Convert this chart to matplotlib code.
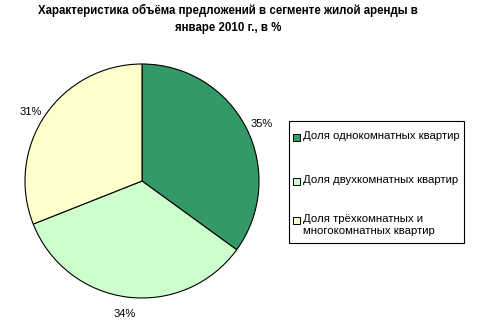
import matplotlib.pyplot as plt
from matplotlib.patches import Rectangle

plt.rcParams['font.family'] = ['Liberation Sans', 'DejaVu Sans']

labels = ['Доля однокомнатных квартир', 'Доля двухкомнатных квартир',
          'Доля трёхкомнатных и\nмногокомнатных квартир']
values = [35, 34, 31]
colors = ['#339966', '#CCFFCC', '#FFFFCC']

W, H = 480, 324
fig = plt.figure(figsize=(W / 100, H / 100), dpi=100)
ax = fig.add_axes([25 / W, 26 / H, 234 / W, 234 / H])

wedges, texts = ax.pie(values, colors=colors, startangle=90, counterclock=False,
                       labels=[f'{v}%' for v in values], labeldistance=1.15,
                       wedgeprops=dict(edgecolor='black', linewidth=0.8),
                       textprops=dict(fontsize=8))
# small nudges so the labels sit where the original put them
nudge = [-0.035, 0.0, -0.055]
for t, dy in zip(texts, nudge):
    t.set_ha('center')
    t.set_va('center')
    x, y = t.get_position()
    t.set_position((x, y + dy))
ax.set_xlim(-1, 1)
ax.set_ylim(-1, 1)
ax.set_aspect('equal')

fig.text(0.475, 0.988, 'Характеристика объёма предложений в сегменте жилой аренды в\nянваре 2010 г., в %',
         ha='center', va='top', fontsize=8.3, fontweight='bold', linespacing=1.6)

# legend drawn by hand: handle sits on the first line of each entry
fig.patches.append(Rectangle((289 / W, 1 - 243 / H), 175 / W, 122 / H,
                             transform=fig.transFigure, facecolor='white',
                             edgecolor='black', linewidth=0.8, zorder=1))
entry_y = [137, 181, 220]
for lab, col, ey in zip(labels, colors, entry_y):
    fig.patches.append(Rectangle((293 / W, 1 - (ey + 3.5) / H), 7 / W, 7 / H,
                                 transform=fig.transFigure, facecolor=col,
                                 edgecolor='black', linewidth=0.7, zorder=2))
    fig.text(303 / W, 1 - (ey - 6) / H, lab, ha='left', va='top', fontsize=8.2,
             linespacing=1.2, zorder=3)

fig.savefig('out.png', dpi=100)
